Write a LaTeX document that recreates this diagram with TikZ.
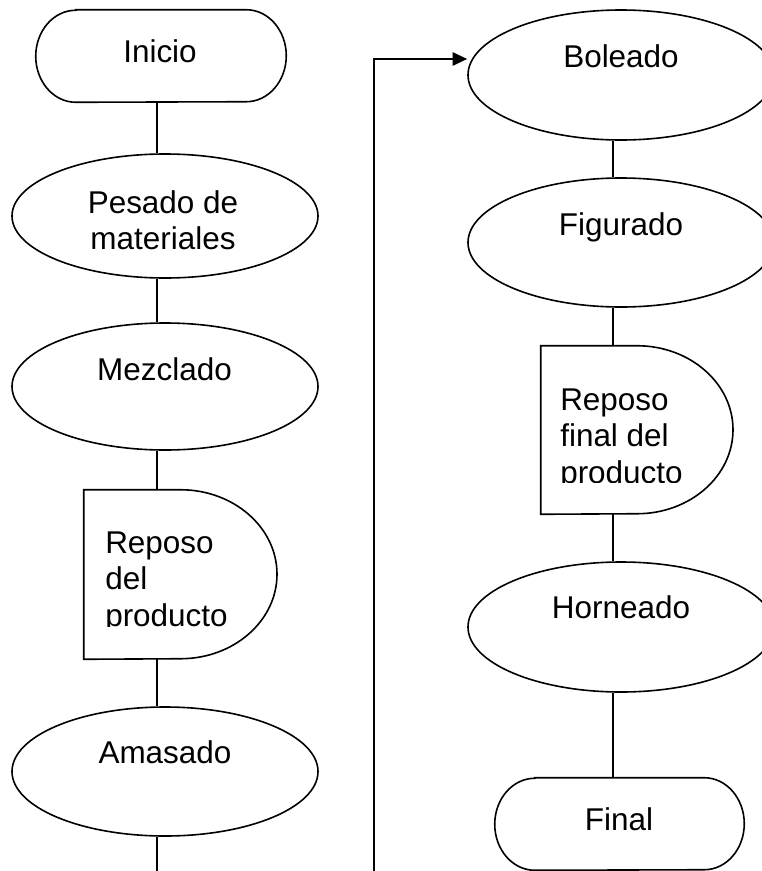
\documentclass[tikz,border=0pt]{standalone}
\usepackage{fontspec}
\setmainfont{Liberation Sans}
\usetikzlibrary{shapes.geometric,arrows.meta,calc}
\newcommand\clines[1]{\vtop{\baselineskip=27.5pt\lineskiplimit=-20pt\halign{\hfil##\hfil\cr#1\crcr}}}
\newcommand\llines[1]{\vtop{\baselineskip=27.5pt\lineskiplimit=-20pt\halign{##\hfil\cr#1\crcr}}}
\begin{document}
\begin{tikzpicture}[x=0.75pt,y=-0.75pt,
  outl/.style={line width=1.2pt},
  conn/.style={line width=1.5pt},
  oval/.style={ellipse, draw, outl, minimum width=229.5pt, inner sep=0pt},
  holder/.style={rectangle, inner sep=0pt},
  txt/.style={inner sep=0pt, font=\fontsize{23.6pt}{27.5pt}\selectfont},
  tip/.style={-{Triangle[length=11pt,width=10pt]}}
]
\clip (0,0) rectangle (762,871);
\fill[white] (0,0) rectangle (762,871);

% ---- shape holders ----
\node[holder, minimum width=187.5pt, minimum height=69pt] (inicio) at (161,56) {};
\node[oval, minimum height=93pt] (pesado) at (165,216) {};
\node[oval, minimum height=95.25pt] (mezclado) at (165,386.5) {};
\node[holder, minimum width=144.75pt, minimum height=126.75pt] (reposo) at (180.5,574.5) {};
\node[oval, minimum height=96.75pt] (amasado) at (165,771.5) {};

\node[oval, minimum height=97.5pt] (boleado) at (621,75) {};
\node[oval, minimum height=96.75pt] (figurado) at (621,242.5) {};
\node[holder, minimum width=144pt, minimum height=126pt] (reposofin) at (637,430) {};
\node[oval, minimum height=97.5pt] (horneado) at (621,627) {};
\node[holder, minimum width=186.75pt, minimum height=69pt] (final) at (619.5,824) {};

% terminators
\draw[outl] ($(inicio.north west)+(40,0)$) -- ($(inicio.north east)+(-40,0)$)
  arc[start angle=-90,end angle=90,x radius=40,y radius=46]
  -- ($(inicio.south west)+(40,0)$)
  arc[start angle=90,end angle=270,x radius=40,y radius=46] -- cycle;
\draw[outl] ($(final.north west)+(40,0)$) -- ($(final.north east)+(-40,0)$)
  arc[start angle=-90,end angle=90,x radius=40,y radius=46]
  -- ($(final.south west)+(40,0)$)
  arc[start angle=90,end angle=270,x radius=40,y radius=46] -- cycle;

% delays
\draw[outl] (reposo.north west) -- (reposo.north)
  arc[start angle=-90,end angle=90,x radius=96.5,y radius=84.5]
  -- (reposo.south west) -- cycle;
\draw[outl] (reposofin.north west) -- (reposofin.north)
  arc[start angle=-90,end angle=90,x radius=96,y radius=84]
  -- (reposofin.south west) -- cycle;

% ---- connectors ----
\coordinate (lx) at (157,0);
\coordinate (rx) at (613,0);
\coordinate (bot1) at (157,871);
\coordinate (bot2) at (373.5,871);
\draw[conn] (inicio.south -| lx) -- (pesado.north -| lx);
\draw[conn] (pesado.south -| lx) -- (mezclado.north -| lx);
\draw[conn] (mezclado.south -| lx) -- (reposo.north -| lx);
\draw[conn] (reposo.south -| lx) -- (amasado.north -| lx);
\draw[conn] (amasado.south -| lx) -- (bot1);
\draw[conn, tip] (bot2) |- ([yshift=12pt]boleado.west);
\draw[conn] (boleado.south -| rx) -- (figurado.north -| rx);
\draw[conn] (figurado.south -| rx) -- (reposofin.north -| rx);
\draw[conn] (reposofin.south -| rx) -- (horneado.north -| rx);
\draw[conn] (horneado.south -| rx) -- (final.north -| rx);

% ---- texts ----
\node[txt, anchor=base] (t-inicio) at (160,62) {Inicio};
\node[txt, anchor=base] (t-pesado) at (163,213) {\clines{Pesado de\cr materiales}};
\node[txt, anchor=base] (t-mezclado) at (164.5,380) {Mezclado};
\begin{scope}
  \clip (84,490) rectangle (277,626);
  \node[txt, anchor=base west] (t-reposo) at (105,553) {\llines{Reposo\cr del\cr producto}};
\end{scope}
\node[txt, anchor=base] (t-amasado) at (165,763) {Amasado};

\node[txt, anchor=base] (t-boleado) at (621,67) {Boleado};
\node[txt, anchor=base] (t-figurado) at (621,235) {Figurado};
\begin{scope}
  \clip (541,346) rectangle (733,482);
  \node[txt, anchor=base west] (t-reposofin) at (560,410) {\llines{Reposo\cr final del\cr producto}};
\end{scope}
\node[txt, anchor=base] (t-horneado) at (621,618) {Horneado};
\node[txt, anchor=base] (t-final) at (619,830) {Final};
\end{tikzpicture}
\end{document}
